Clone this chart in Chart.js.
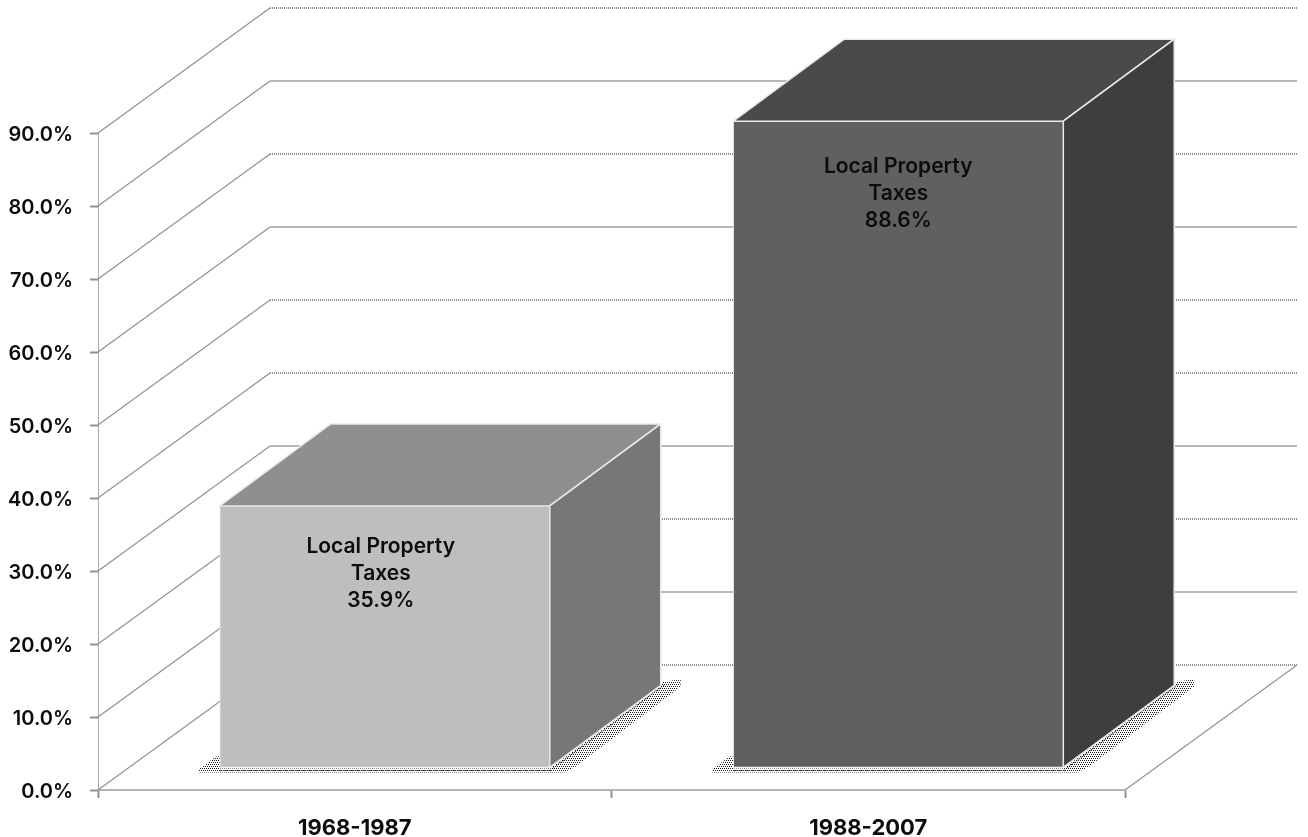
<!DOCTYPE html>
<html><head><meta charset="utf-8">
<style>html,body{margin:0;padding:0;background:#fff}canvas{display:block}</style>
<script src="https://cdn.jsdelivr.net/npm/chart.js@4"></script>
</head><body><canvas id="c" width="1308" height="837"></canvas>
<script>
const categories = ['1968-1987', '1988-2007'];
const shares = [35.9, 88.6];
const seriesLabel = 'Local Property Taxes';
const labelLines = ['Local Property', 'Taxes'];
const FAMILY = 'Inter, "Liberation Sans", sans-serif';
const FONT = '600 21px ' + FAMILY;

// 3D projection of the wall, and of the bars inside it
const WALL = {dx: 172, dy: -125};
const BAR_SHIFT = {dx: 30, dy: -22};
const BAR_DEPTH = {dx: 111, dy: -82};
const FRONT = ['#bebebe', '#606060'];
const TOP = ['#8f8f8f', '#4a4a4a'];
const SIDE = ['#777777', '#3e3e3e'];
const DOTTED_WALL_TICKS = new Set([0, 2, 4, 5, 7, 9]);
const LABEL_DROP = [41, 45];
const LABEL_NUDGE = [-4, 0];

function stipple(ctx) {
  const p = document.createElement('canvas'); p.width = 4; p.height = 4;
  const g = p.getContext('2d');
  g.fillStyle = '#1c1c1c';
  g.fillRect(0, 0, 1, 1); g.fillRect(2, 0, 1, 1); g.fillRect(1, 2, 1, 1); g.fillRect(3, 2, 1, 1);
  return ctx.createPattern(p, 'repeat');
}
function poly(ctx, pts) {
  ctx.beginPath();
  pts.forEach((p, i) => i ? ctx.lineTo(p[0], p[1]) : ctx.moveTo(p[0], p[1]));
  ctx.closePath();
}

const bar3d = {
  id: 'bar3d',
  beforeDatasetsDraw(chart) {
    const {ctx, chartArea: a, scales: {y}} = chart;
    ctx.save();
    // walls
    y.ticks.forEach((t, i) => {
      const py = y.getPixelForValue(t.value);
      ctx.strokeStyle = '#929292'; ctx.lineWidth = 1.2; ctx.setLineDash([]);
      ctx.beginPath(); ctx.moveTo(a.left, py); ctx.lineTo(a.left + WALL.dx, py + WALL.dy); ctx.stroke();
      const by = Math.round(py + WALL.dy);
      ctx.beginPath(); ctx.moveTo(a.left + WALL.dx, by); ctx.lineTo(a.right + WALL.dx, by);
      if (DOTTED_WALL_TICKS.has(i)) { ctx.lineWidth = 2; ctx.setLineDash([1, 1]); ctx.strokeStyle = '#8c8c8c'; }
      else { ctx.lineWidth = 1.5; ctx.strokeStyle = '#a0a0a0'; }
      ctx.stroke();
    });
    ctx.setLineDash([]);
    ctx.strokeStyle = '#929292'; ctx.lineWidth = 1.2;
    ctx.beginPath(); ctx.moveTo(a.right, a.bottom); ctx.lineTo(a.right + WALL.dx, a.bottom + WALL.dy); ctx.stroke();

    const meta = chart.getDatasetMeta(0);
    const pat = stipple(ctx);
    meta.data.forEach((bar, i) => {
      const x0 = bar.x - bar.width / 2 + BAR_SHIFT.dx, x1 = x0 + bar.width;
      const yt = bar.y + BAR_SHIFT.dy, yb = bar.base + BAR_SHIFT.dy;
      const d = BAR_DEPTH;
      // floor shadow
      ctx.fillStyle = pat;
      poly(ctx, [[x0 - 21, yb + 2], [x0 - 4, yb - 11], [x0, yb - 11], [x0, yb + 1], [x1, yb + 1], [x1 + d.dx + 3, yb + d.dy - 4],
        [x1 + d.dx + 20, yb + d.dy - 6], [x1 + d.dx + 20, yb + d.dy + 1], [x1 + 26, yb - 1], [x1 + 14, yb + 5], [x0 - 21, yb + 5]]);
      ctx.fill();
      ctx.strokeStyle = '#333'; ctx.lineWidth = 1; ctx.setLineDash([2, 1]);
      ctx.beginPath(); ctx.moveTo(x1 + 3, yb + 1); ctx.lineTo(x1 + d.dx + 4, yb + d.dy - 1); ctx.stroke();
      ctx.beginPath(); ctx.moveTo(x0, yb + 3); ctx.lineTo(x1 + 3, yb + 3); ctx.stroke();
      ctx.setLineDash([]);
      // top and side faces
      ctx.strokeStyle = '#e8e8e8'; ctx.lineWidth = 1.6; ctx.lineJoin = 'round';
      poly(ctx, [[x0, yt], [x1, yt], [x1 + d.dx, yt + d.dy], [x0 + d.dx, yt + d.dy]]);
      ctx.fillStyle = TOP[i]; ctx.fill(); ctx.stroke();
      poly(ctx, [[x1, yt], [x1 + d.dx, yt + d.dy], [x1 + d.dx, yb + d.dy], [x1, yb]]);
      ctx.fillStyle = SIDE[i]; ctx.fill(); ctx.stroke();
    });
    ctx.restore();
  },
  beforeDatasetDraw(chart) { chart.ctx.save(); chart.ctx.translate(BAR_SHIFT.dx, BAR_SHIFT.dy); },
  afterDatasetDraw(chart) { chart.ctx.restore(); },
  afterDatasetsDraw(chart) {
    const {ctx} = chart;
    ctx.save();
    ctx.font = FONT; ctx.fillStyle = '#0c0c0c'; ctx.textAlign = 'center'; ctx.textBaseline = 'middle';
    chart.getDatasetMeta(0).data.forEach((bar, i) => {
      const cx = bar.x + BAR_SHIFT.dx + LABEL_NUDGE[i], top = bar.y + BAR_SHIFT.dy + LABEL_DROP[i];
      [...labelLines, shares[i].toFixed(1) + '%'].forEach((s, k) => ctx.fillText(s, cx, top + k * 27));
    });
    ctx.restore();
  }
};

new Chart(document.getElementById('c'), {
  type: 'bar',
  plugins: [bar3d],
  data: {
    labels: categories,
    datasets: [{
      label: seriesLabel, data: shares, backgroundColor: FRONT,
      borderColor: '#ececec', borderWidth: 1, borderSkipped: false,
      barThickness: 330, clip: false
    }]
  },
  options: {
    responsive: false, animation: false,
    layout: {padding: {top: 133, right: 183, left: 0, bottom: 0}},
    plugins: {legend: {display: false}, tooltip: {enabled: false}},
    scales: {
      x: {
        offset: true,
        afterFit(s) { s.height = 47; },
        grid: {offset: true, drawOnChartArea: false, drawTicks: true, tickLength: 8, tickColor: '#909090', tickWidth: 2},
        border: {display: true, color: '#b4b4b4', width: 2, dash: [1, 1]},
        ticks: {font: {family: FAMILY, size: 22, weight: '700'}, color: '#0c0c0c', padding: 17, maxRotation: 0}
      },
      y: {
        min: 0, max: 90,
        afterFit(s) { s.width = 98; },
        grid: {drawOnChartArea: false, drawTicks: true, tickLength: 8, tickColor: '#909090', tickWidth: 2},
        border: {display: true, color: '#a8a8a8', width: 1, dash: [1, 1]},
        ticks: {stepSize: 10, callback: v => v.toFixed(1) + '%', font: {family: FAMILY, size: 20, weight: '600'}, color: '#0c0c0c', padding: 17, labelOffset: 2}
      }
    }
  }
});
</script></body></html>
